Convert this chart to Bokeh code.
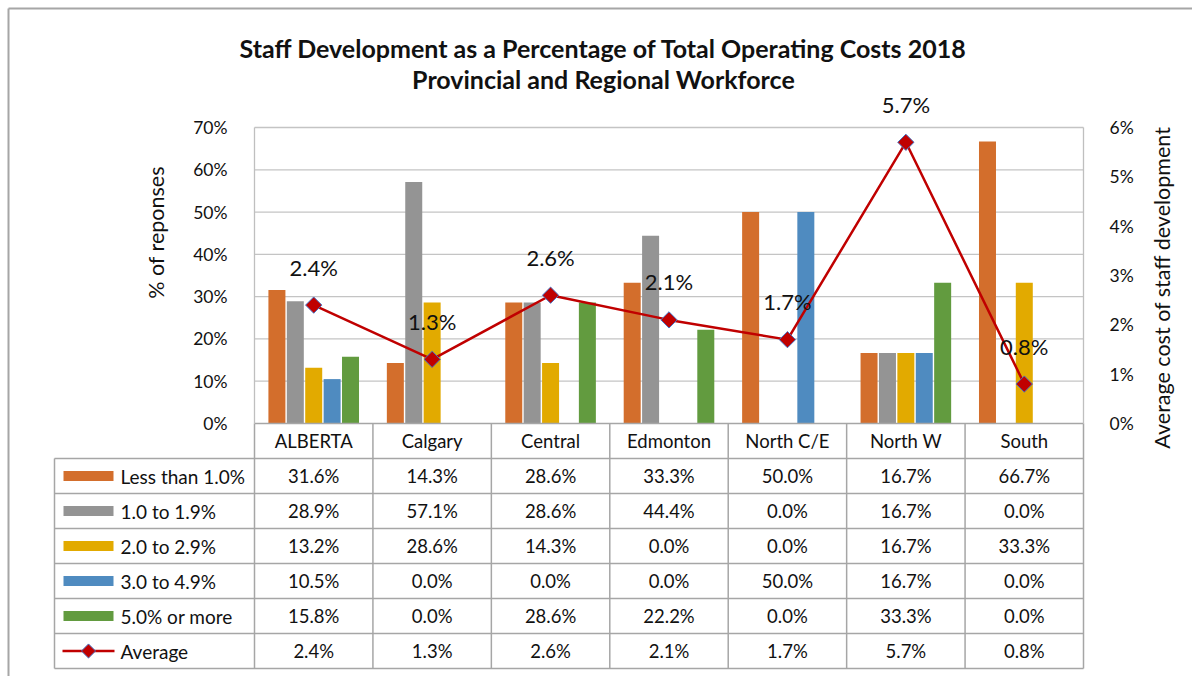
import numpy as np
from bokeh.plotting import figure
from bokeh.models import Range1d, LinearAxis, FixedTicker, PrintfTickFormatter
from bokeh.embed import file_html
from bokeh.resources import INLINE
from bokeh.core.properties import value

# ---------------- data ----------------
categories = ["ALBERTA", "Calgary", "Central", "Edmonton", "North C/E", "North W", "South"]
series_names = ["Less than 1.0%", "1.0 to 1.9%", "2.0 to 2.9%", "3.0 to 4.9%", "5.0% or more"]
less_than_1 = [31.6, 14.3, 28.6, 33.3, 50.0, 16.7, 66.7]
from_1_to_1_9 = [28.9, 57.1, 28.6, 44.4, 0.0, 16.7, 0.0]
from_2_to_2_9 = [13.2, 28.6, 14.3, 0.0, 0.0, 16.7, 33.3]
from_3_to_4_9 = [10.5, 0.0, 0.0, 0.0, 50.0, 16.7, 0.0]
five_or_more = [15.8, 0.0, 28.6, 22.2, 0.0, 33.3, 0.0]
average_name = "Average"
average = [2.4, 1.3, 2.6, 2.1, 1.7, 5.7, 0.8]
left_ticks = [0, 10, 20, 30, 40, 50, 60, 70]
right_ticks = [0, 1, 2, 3, 4, 5, 6]
title_line1 = "Staff Development as a Percentage of Total Operating Costs 2018"
title_line2 = "Provincial and Regional Workforce"
left_title = "% of reponses"
right_title = "Average cost of staff development"

series_values = [less_than_1, from_1_to_1_9, from_2_to_2_9, from_3_to_4_9, five_or_more]

# ---------------- styles ----------------
colors = ["#D36E2C", "#949494", "#E2AA00", "#4F8BC0", "#629B3F"]
line_color = "#C00000"
marker_edge = "#4472C4"
grid_color = "#C4C4C4"
table_color = "#A6A6A6"
border_color = "#A6A6A6"
text_color = "#111111"
FONT = "Lato"

# ---------------- layout constants (pixels of the page) ----------------
W, H = 1192, 676
n = len(categories)
X0 = 254                    # px of the plot-area left edge
PLOT_W = 829                # plot-area width
Y0 = 423                    # px of the 0% line
PLOT_H = 296                # plot-area height
ROW0 = 458                  # px of the first table row top
ROW_H = 35
u = PLOT_W / (2 * n)        # px per x unit (each category = 2 units)
py = PLOT_H / left_ticks[-1]
pa = PLOT_H / right_ticks[-1]

def xd(px):
    return (px - X0) / u

def yd(px):
    return (Y0 - px) / py

centers = [2 * i + 1 for i in range(n)]
bounds = [2 * i for i in range(n + 1)]
bar_w = 17 / u
bar_step = 18.4 / u

p = figure(width=W, height=H,
           x_range=Range1d(-X0 / u, (W - X0) / u),
           y_range=Range1d(-(H - Y0) / py, Y0 / py),
           output_backend="svg", toolbar_location=None,
           x_axis_type=None, y_axis_type=None, min_border=0)
p.extra_y_ranges = {"avg": Range1d(-(H - Y0) / pa, Y0 / pa),
                    "table": Range1d((H - ROW0) / ROW_H, -ROW0 / ROW_H)}
p.outline_line_color = None
p.background_fill_color = "white"
p.border_fill_color = "white"

# outer chart border (top and left edges)
p.segment(x0=[xd(8), xd(8)], x1=[xd(W), xd(8)], y0=[yd(8), yd(8)], y1=[yd(8), yd(H)],
          line_color=border_color, line_width=2)

# gridlines of the left axis
gl = left_ticks[1:]
p.segment(x0=[0] * len(gl), x1=[2 * n] * len(gl), y0=gl, y1=gl,
          line_color=grid_color, line_width=1.3)

# axes
yl = LinearAxis(ticker=FixedTicker(ticks=left_ticks), formatter=PrintfTickFormatter(format="%d%%"),
                fixed_location=0, bounds=(left_ticks[0], left_ticks[-1]))
yr = LinearAxis(y_range_name="avg", ticker=FixedTicker(ticks=right_ticks),
                formatter=PrintfTickFormatter(format="%d%%"),
                fixed_location=2 * n, bounds=(right_ticks[0], right_ticks[-1]))
for ax in (yl, yr):
    ax.axis_line_color = "#BFBFBF"
    ax.axis_line_width = 1.3
    ax.major_tick_line_color = None
    ax.minor_tick_line_color = None
    ax.major_label_text_font = FONT
    ax.major_label_text_font_size = "17.5px"
    ax.major_label_text_color = text_color
yl.major_label_standoff = 21
yr.major_label_standoff = 20
p.add_layout(yl, "left")
p.add_layout(yr, "right")

# bars
for k, (vals, col) in enumerate(zip(series_values, colors)):
    xs = [c + (k - 2) * bar_step for c in centers]
    p.vbar(x=xs, top=vals, bottom=0, width=bar_w, fill_color=col, line_color=None)

# average line
p.line(centers, average, y_range_name="avg", line_color=line_color, line_width=2.5)
p.scatter(centers, average, y_range_name="avg", marker="square", angle=np.pi / 4, size=11.5,
          fill_color=line_color, line_color=marker_edge, line_width=1)
p.text(x=centers, y=[v + 38 / pa for v in average], text=[f"{v:.1f}%" for v in average],
       y_range_name="avg", text_align="center", text_baseline="alphabetic",
       text_font=value(FONT), text_font_size="22px", text_color=text_color)

# titles
p.text(x=[xd(603), xd(603)], y=[yd(47), yd(78)], text=[title_line1, title_line2],
       text_align="center", text_baseline="middle", text_font=value(FONT),
       text_font_size="25px", text_font_style="bold", text_color=text_color)
p.text(x=[xd(155)], y=[yd(232)], text=[left_title], angle=np.pi / 2,
       text_align="center", text_baseline="middle", text_font=value(FONT),
       text_font_size="21.5px", text_color=text_color)
p.text(x=[xd(1161)], y=[yd(287)], text=[right_title], angle=np.pi / 2,
       text_align="center", text_baseline="middle", text_font=value(FONT),
       text_font_size="21.5px", text_color=text_color)

# ---------------- data table ----------------
legend_left = xd(54)
row_names = series_names + [average_name]
n_rows = len(row_names)

hy = list(range(-1, n_rows + 1))
p.segment(x0=[0 if r < 0 else legend_left for r in hy], x1=[2 * n] * len(hy), y0=hy, y1=hy,
          y_range_name="table", line_color=table_color, line_width=1.5)
p.segment(x0=[legend_left], x1=[legend_left], y0=[0], y1=[n_rows],
          y_range_name="table", line_color=table_color, line_width=1.5)
p.segment(x0=bounds, x1=bounds, y0=[-1] * len(bounds), y1=[n_rows] * len(bounds),
          y_range_name="table", line_color=table_color, line_width=1.5)

# header: category names
p.text(x=centers, y=[-0.5] * n, text=categories, y_range_name="table",
       text_align="center", text_baseline="middle",
       text_font=value(FONT), text_font_size="18.5px", text_color=text_color)

# cell values
all_rows = series_values + [average]
tx, ty, tt = [], [], []
for r, vals in enumerate(all_rows):
    for c, v in zip(centers, vals):
        tx.append(c)
        ty.append(r + 0.5)
        tt.append(f"{v:.1f}%")
p.text(x=tx, y=ty, text=tt, y_range_name="table", text_align="center", text_baseline="middle",
       text_font=value(FONT), text_font_size="18.5px", text_color=text_color)

# legend keys and row labels
key_x = xd(88)
p.rect(x=[key_x] * len(series_names), y=[r + 0.5 for r in range(len(series_names))],
       width=50, height=10, width_units="screen", height_units="screen",
       y_range_name="table", fill_color=colors, line_color=None)
avg_row = len(series_names) + 0.5
p.segment(x0=[xd(62)], x1=[xd(114)], y0=[avg_row], y1=[avg_row], y_range_name="table",
          line_color=line_color, line_width=2.5)
p.scatter(x=[key_x], y=[avg_row], y_range_name="table", marker="square", angle=np.pi / 4,
          size=10, fill_color=line_color, line_color=marker_edge, line_width=1)
p.text(x=[xd(120)] * n_rows, y=[r + 0.5 for r in range(n_rows)], text=row_names,
       y_range_name="table", text_align="left", text_baseline="middle",
       text_font=value(FONT), text_font_size="19px", text_color=text_color)

with open("out.html", "w") as f:
    f.write(file_html(p, INLINE))
